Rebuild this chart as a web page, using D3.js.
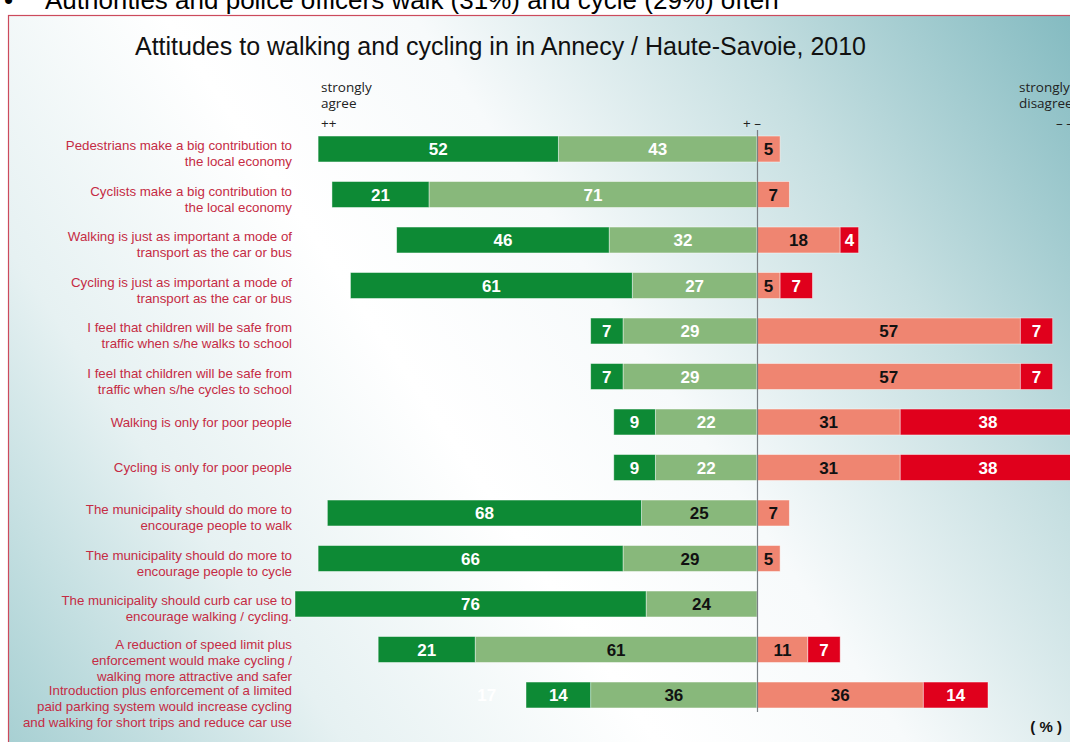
<!DOCTYPE html>
<html>
<head>
<meta charset="utf-8">
<script src="https://cdn.jsdelivr.net/npm/d3@7"></script>
<style>
  html, body { margin: 0; padding: 0; background: #fff; }
  svg { display: block; }
</style>
</head>
<body>
<svg width="1070" height="742"></svg>
<script>
var statements = [
    ['Pedestrians make a big contribution to', 'the local economy'],
    ['Cyclists make a big contribution to', 'the local economy'],
    ['Walking is just as important a mode of', 'transport as the car or bus'],
    ['Cycling is just as important a mode of', 'transport as the car or bus'],
    ['I feel that children will be safe from', 'traffic when s/he walks to school'],
    ['I feel that children will be safe from', 'traffic when s/he cycles to school'],
    ['Walking is only for poor people'],
    ['Cycling is only for poor people'],
    ['The municipality should do more to', 'encourage people to walk'],
    ['The municipality should do more to', 'encourage people to cycle'],
    ['The municipality should curb car use to', 'encourage walking / cycling.'],
    ['A reduction of speed limit plus', 'enforcement would make cycling /', 'walking more attractive and safer'],
    ['Introduction plus enforcement of a limited', 'paid parking system would increase cycling', 'and walking for short trips and reduce car use']
];
var strongAgree    = [52, 21, 46, 61, 7, 7, 9, 9, 68, 66, 76, 21, 14];
var agree          = [43, 71, 32, 27, 29, 29, 22, 22, 25, 29, 24, 61, 36];
var disagree       = [5, 7, 18, 5, 57, 57, 31, 31, 7, 5, 0, 11, 36];
var strongDisagree = [0, 0, 4, 7, 7, 7, 38, 38, 0, 0, 0, 7, 14];
var noAnswer       = [0, 0, 0, 0, 0, 0, 0, 0, 0, 0, 0, 0, 17];

var title = 'Attitudes to walking and cycling in in Annecy / Haute-Savoie, 2010';
var aboveText = 'Authorities and police officers walk (31%) and cycle (29%) often';

var svg = d3.select('svg');
var W = +svg.attr('width');
var H = +svg.attr('height');
var font = 'Arial, "Liberation Sans", Helvetica, sans-serif';
var labelRed = '#c52b44';

// background gradient
var defs = svg.append('defs');
var grad = defs.append('linearGradient')
    .attr('id', 'bg')
    .attr('gradientUnits', 'userSpaceOnUse')
    .attr('x1', 0).attr('y1', H)
    .attr('x2', W).attr('y2', 15);
[[0, '#a6cfd2'], [0.22, '#e6f1f2'], [0.42, '#ffffff'], [0.58, '#f7fafb'],
 [0.78, '#c6dfe1'], [1, '#84bbc1']].forEach(s => {
    grad.append('stop').attr('offset', s[0]).attr('stop-color', s[1]);
});

// text of the slide above, cut by the frame
svg.append('text')
    .attr('x', 4).attr('y', 9)
    .attr('font-family', font).attr('font-size', 26)
    .text('\u2022');
svg.append('text')
    .attr('x', 45).attr('y', 9)
    .attr('font-family', font).attr('font-size', 26)
    .attr('fill', '#000')
    .text(aboveText);

svg.append('rect')
    .attr('x', 8.5).attr('y', 15.5)
    .attr('width', W).attr('height', H)
    .attr('fill', 'url(#bg)')
    .attr('stroke', '#cc4a5c').attr('stroke-width', 1.2);

svg.append('text')
    .attr('x', 135).attr('y', 55)
    .attr('font-family', font).attr('font-size', 25)
    .attr('fill', '#111')
    .text(title);

// data table for d3.stack
var rows = statements.map((s, i) => ({
    i: i,
    agree: -agree[i],
    strongAgree: -strongAgree[i],
    noAnswer: -noAnswer[i],
    disagree: disagree[i],
    strongDisagree: strongDisagree[i]
}));
var keys = ['agree', 'strongAgree', 'noAnswer', 'disagree', 'strongDisagree'];
var colors = {
    agree: '#88b87b',
    strongAgree: '#0d8a35',
    noAnswer: 'none',
    disagree: '#ef8571',
    strongDisagree: '#e0001c'
};
var series = d3.stack().keys(keys).offset(d3.stackOffsetDiverging)(rows);

var x = d3.scaleLinear().domain([-100, 100]).range([757 - 462, 757 + 462]);
var y = d3.scaleBand()
    .domain(d3.range(statements.length))
    .range([126.25, 717.75])
    .paddingInner(0.43)
    .paddingOuter(0.215);

var textColor = function(key, i) {
    if (key === 'strongAgree' || key === 'strongDisagree' || key === 'noAnswer') return '#fff';
    if (key === 'disagree') return '#111';
    return i < 8 ? '#fff' : '#111';
};

var layer = svg.append('g').selectAll('g')
    .data(series)
    .join('g')
    .attr('fill', d => colors[d.key]);

layer.selectAll('rect')
    .data(d => d.map(p => ({ key: d.key, p: p })).filter(d => d.p[1] - d.p[0] !== 0))
    .join('rect')
    .attr('x', d => x(Math.min(d.p[0], d.p[1])))
    .attr('y', d => y(d.p.data.i))
    .attr('width', d => Math.abs(x(d.p[1]) - x(d.p[0])))
    .attr('height', y.bandwidth())
    .attr('stroke', d => d.key === 'noAnswer' ? 'none' : 'rgba(255,255,255,0.55)')
    .attr('stroke-width', 0.8);

layer.selectAll('text')
    .data(d => d.map(p => ({ key: d.key, p: p })).filter(d => d.p[1] - d.p[0] !== 0))
    .join('text')
    .attr('x', d => (x(d.p[0]) + x(d.p[1])) / 2)
    .attr('y', d => y(d.p.data.i) + y.bandwidth() / 2 + 6)
    .attr('text-anchor', 'middle')
    .attr('font-family', font).attr('font-size', 17).attr('font-weight', 'bold')
    .attr('fill', d => textColor(d.key, d.p.data.i))
    .text(d => Math.abs(d.p[1] - d.p[0]));

// centre line
svg.append('line')
    .attr('x1', x(0) + 0.5).attr('x2', x(0) + 0.5)
    .attr('y1', 130).attr('y2', 712)
    .attr('stroke', '#7a7f84').attr('stroke-width', 1.2);

// statement labels
var labels = svg.append('g')
    .attr('font-family', font).attr('font-size', 13.3)
    .attr('fill', labelRed)
    .attr('text-anchor', 'end');
labels.selectAll('text')
    .data(statements)
    .join('text')
    .attr('y', (d, i) => y(i) + y.bandwidth() / 2 + 4.5 - (d.length - 1) * 3.5 + (d.length > 2 ? 2 : 0))
    .selectAll('tspan')
    .data(d => d)
    .join('tspan')
    .attr('x', 292)
    .attr('dy', (d, j) => j === 0 ? 0 : 16)
    .text(d => d);

// header marks
var head = svg.append('g')
    .attr('font-family', '"Open Sans", "DejaVu Sans", sans-serif')
    .attr('font-size', 13.5).attr('fill', '#222');
[['strongly', 321, 92], ['agree', 321, 108], ['++', 321, 128],
 ['+ \u2013', 743, 128],
 ['strongly', 1019, 92], ['disagree', 1019, 108], ['\u2013 \u2013', 1056, 128]]
    .forEach(t => {
        head.append('text').attr('x', t[1]).attr('y', t[2]).attr('xml:space', 'preserve').text(t[0]);
    });

svg.append('text')
    .attr('x', 1062).attr('y', 732)
    .attr('text-anchor', 'end')
    .attr('font-family', font).attr('font-size', 15).attr('font-weight', 'bold')
    .attr('fill', '#111')
    .attr('xml:space', 'preserve')
    .text('( % )');
</script>
</body>
</html>
